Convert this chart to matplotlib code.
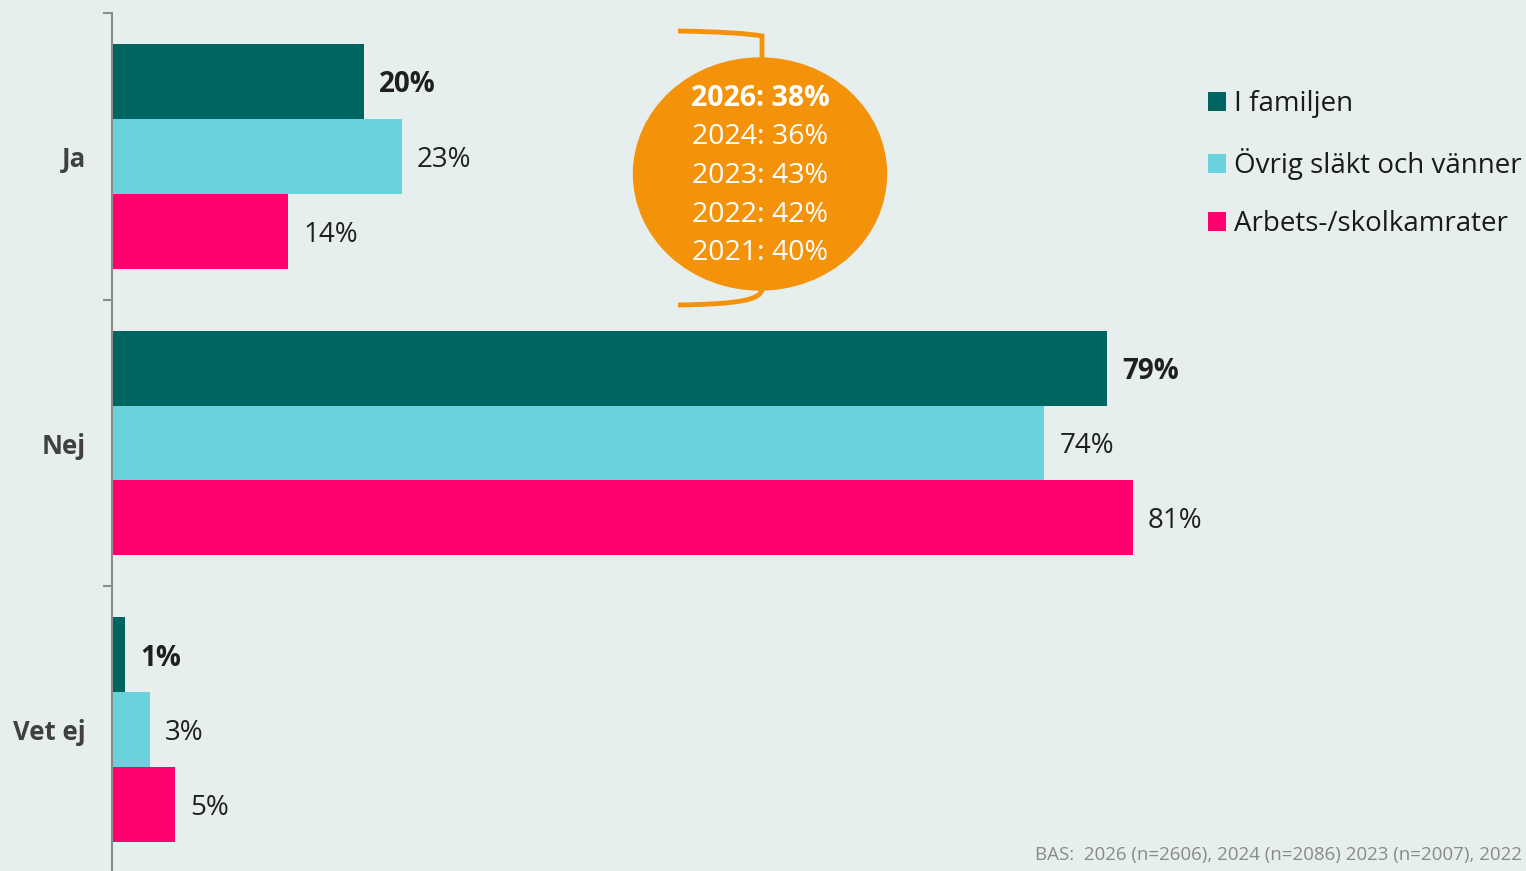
import numpy as np
from matplotlib import pyplot as plt
from matplotlib.patches import Ellipse
from matplotlib.path import Path
from matplotlib.patches import PathPatch

# data
categories = ['Ja', 'Nej', 'Vet ej']
series_names = ['I familjen', 'Övrig släkt och vänner', 'Arbets-/skolkamrater']
familjen = [20, 79, 1]
ovrig = [23, 74, 3]
arbets = [14, 81, 5]
bubble_lines = ['2026: 38%', '2024: 36%', '2023: 43%', '2022: 42%', '2021: 40%']
footer = 'BAS:  2026 (n=2606), 2024 (n=2086) 2023 (n=2007), 2022'

colors = ['#006461', '#6AD2DC', '#FF006E']
bg = '#E6EFEE'
W, H = 1526, 871

plt.rcParams['font.family'] = ['Open Sans', 'DejaVu Sans']

fig = plt.figure(figsize=(W / 100, H / 100), dpi=100, facecolor=bg)

# huvudaxel: vänster spine vid x=112, topp vid y=13, ett band = 287 px
ax = fig.add_axes([112 / W, -2 / H, 1288 / W, 860 / H])
ax.set_facecolor(bg)
ax.patch.set_alpha(0)

y = np.arange(len(categories))
bh = 0.261
all_series = [familjen, ovrig, arbets]
for i, vals in enumerate(all_series):
    pos = y + (i - 1) * bh
    bars = ax.barh(pos, vals, height=bh, color=colors[i], label=series_names[i])
    for b, v in zip(bars, vals):
        ax.annotate(f'{v}%', (b.get_width(), b.get_y() + b.get_height() / 2),
                    xytext=(11, -2.5), textcoords='offset points',
                    va='center', ha='left', fontsize=20, color='#1F1F1F',
                    fontweight='bold' if i == 0 else 'normal')

ax.set_xlim(0, 1288 / 12.6)
ax.set_ylim(2.5, -0.5)
ax.set_yticks(y)
ax.set_yticklabels(categories, fontsize=18.5, fontweight='bold', color='#404040')
ax.tick_params(axis='y', which='major', length=0, pad=19)
ax.set_yticks([-0.5, 0.5, 1.5, 2.5], minor=True)
ax.tick_params(axis='y', which='minor', length=6.5, width=1.5, color='#8C8C8C')
ax.set_xticks([])
for s in ['top', 'right', 'bottom']:
    ax.spines[s].set_visible(False)
ax.spines['left'].set_color('#8C8C8C')
ax.spines['left'].set_linewidth(1.5)

ax.legend(loc='upper left', bbox_to_anchor=(1208 / W, 1 - 90 / H),
          bbox_transform=fig.transFigure, frameon=False, fontsize=20,
          handlelength=0.65, handleheight=0.65, handletextpad=0.3,
          labelspacing=1.08, borderpad=0, borderaxespad=0,
          labelcolor='#1A1A1A')

# orange bubbla i pixelkoordinater
ov = fig.add_axes([0, 0, 1, 1])
ov.set_xlim(0, W)
ov.set_ylim(H, 0)
ov.axis('off')
ov.patch.set_alpha(0)

orange = '#F4930A'
ov.add_patch(Ellipse((760, 174), 253, 232, color=orange))
top = Path([(678, 31), (740, 32), (762, 36), (762, 46), (762, 60)],
           [Path.MOVETO, Path.CURVE3, Path.CURVE3, Path.CURVE3, Path.LINETO])
bot = Path([(762, 288), (762, 300), (740, 304), (678, 305)],
           [Path.MOVETO, Path.CURVE4, Path.CURVE4, Path.CURVE4])
ov.add_patch(PathPatch(top, fill=False, edgecolor=orange, lw=3.5))
ov.add_patch(PathPatch(bot, fill=False, edgecolor=orange, lw=3.5))

for k, line in enumerate(bubble_lines):
    ov.text(760, 99 + k * 38.5, line, ha='center', va='center', color='white',
            fontsize=20.5, fontweight='bold' if k == 0 else 'normal')

ov.text(1522, 855, footer, ha='right', va='center', color='#8A8A8A', fontsize=13.5)

fig.savefig('out.png', dpi=100, facecolor=bg)
